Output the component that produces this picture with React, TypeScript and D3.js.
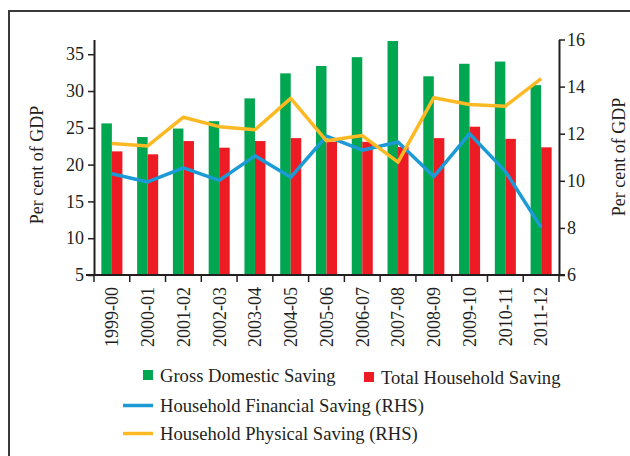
import React, { useEffect, useRef } from 'react';
import * as d3 from 'd3';

const years = ['1999-00', '2000-01', '2001-02', '2002-03', '2003-04', '2004-05', '2005-06', '2006-07', '2007-08', '2008-09', '2009-10', '2010-11', '2011-12'];
const grossDomestic = [25.6, 23.75, 24.9, 25.9, 29.0, 32.4, 33.4, 34.6, 36.8, 32.0, 33.7, 34.0, 30.8];
const totalHousehold = [21.8, 21.4, 23.2, 22.3, 23.2, 23.6, 23.1, 23.1, 22.4, 23.6, 25.15, 23.5, 22.35];
const financialRHS = [10.3, 9.95, 10.55, 10.02, 11.06, 10.15, 11.9, 11.3, 11.65, 10.18, 12.0, 10.4, 8.02];
const physicalRHS = [11.58, 11.48, 12.7, 12.3, 12.17, 13.5, 11.7, 11.92, 10.79, 13.53, 13.24, 13.17, 14.34];
const leftTicks = [5, 10, 15, 20, 25, 30, 35];
const rightTicks = [6, 8, 10, 12, 14, 16];

const GREEN = '#00a650';
const RED = '#ed1c24';
const BLUE = '#1b9ad6';
const ORANGE = '#fdb924';
const INK = '#231f20';
const FONT = '"Liberation Serif", serif';

const App: React.FC = () => {
  const svgRef = useRef<SVGSVGElement>(null);

  useEffect(() => {
    if (!svgRef.current) return;
    const svg = d3.select(svgRef.current);
    svg.selectAll('*').remove();

    const left = 94, right = 559, top = 39.5, bottom = 275;

    const x0 = d3.scaleBand<string>().domain(years).range([left, right]).padding(0);
    const x1 = d3.scaleBand<string>().domain(['gds', 'ths']).range([0, x0.bandwidth()]).paddingInner(0).paddingOuter(0.7);
    const yL = d3.scaleLinear().domain([5, 37]).range([bottom, top]);
    const yR = d3.scaleLinear().domain([6, 16]).range([bottom, top]);

    // frame
    svg.append('path').attr('d', 'M9,456 L9,11 L630,11').attr('fill', 'none').attr('stroke', '#3a3a3a').attr('stroke-width', 2);

    // bars
    const g = svg.append('g');
    years.forEach((yr, i) => {
      g.append('rect')
        .attr('x', x0(yr)! + x1('gds')!)
        .attr('y', yL(grossDomestic[i]))
        .attr('width', x1.bandwidth())
        .attr('height', bottom - yL(grossDomestic[i]))
        .attr('fill', GREEN);
      g.append('rect')
        .attr('x', x0(yr)! + x1('ths')!)
        .attr('y', yL(totalHousehold[i]))
        .attr('width', x1.bandwidth())
        .attr('height', bottom - yL(totalHousehold[i]))
        .attr('fill', RED);
    });

    // lines
    const cx = (i: number) => x0(years[i])! + x0.bandwidth() / 2;
    const line = d3.line<number>().x((_, i) => cx(i)).y(d => yR(d));
    [[financialRHS, BLUE], [physicalRHS, ORANGE]].forEach(([data, color]) => {
      svg.append('path')
        .attr('d', line(data as number[]))
        .attr('fill', 'none')
        .attr('stroke', color as string)
        .attr('stroke-width', 3.5)
        .attr('stroke-linejoin', 'round');
    });

    // axes
    const styleAxis = (sel: d3.Selection<SVGGElement, unknown, null, undefined>) => {
      sel.selectAll('.domain').attr('stroke', INK).attr('stroke-width', 2);
      sel.selectAll('.tick line').attr('stroke', INK).attr('stroke-width', 1.5);
      sel.selectAll('.tick text').attr('fill', INK).style('font-family', FONT).style('font-size', '18px');
    };

    const axL = svg.append('g').attr('transform', `translate(${left},0)`)
      .call(d3.axisLeft(yL).tickValues(leftTicks).tickSize(6).tickSizeOuter(0).tickPadding(4));
    styleAxis(axL);

    const axR = svg.append('g').attr('transform', `translate(${right},0)`)
      .call(d3.axisRight(yR).tickValues(rightTicks).tickSize(6).tickSizeOuter(0).tickPadding(2));
    styleAxis(axR);

    const axB = svg.append('g').attr('transform', `translate(0,${bottom})`)
      .call(d3.axisBottom(x0).tickSize(0).tickSizeOuter(0));
    styleAxis(axB);
    axB.select('.domain').attr('d', `M${left - 8},0H${right + 6}`);
    axB.selectAll('.tick text')
      .attr('transform', 'rotate(-90)')
      .attr('text-anchor', 'end')
      .attr('x', -12)
      .attr('y', 0)
      .attr('dy', '0.35em');
    // tick marks between bands
    axB.selectAll('.sep')
      .data(d3.range(years.length + 1))
      .enter().append('line')
      .attr('class', 'sep')
      .attr('x1', i => left + i * x0.step())
      .attr('x2', i => left + i * x0.step())
      .attr('y1', 0).attr('y2', 7)
      .attr('stroke', INK).attr('stroke-width', 1.5);

    // axis titles
    svg.append('text')
      .attr('transform', `translate(43,165) rotate(-90)`)
      .attr('text-anchor', 'middle')
      .attr('fill', INK)
      .style('font-family', FONT).style('font-size', '18px')
      .text('Per cent of GDP');
    svg.append('text')
      .attr('transform', `translate(625,157) rotate(-90)`)
      .attr('text-anchor', 'middle')
      .attr('fill', INK)
      .style('font-family', FONT).style('font-size', '18px')
      .text('Per cent of GDP');

    // legend
    const lg = svg.append('g').style('font-family', FONT).style('font-size', '18.6px').attr('fill', INK);
    lg.append('rect').attr('x', 143).attr('y', 370).attr('width', 10).attr('height', 10).attr('fill', GREEN);
    lg.append('text').attr('x', 160).attr('y', 382).text('Gross Domestic Saving');
    lg.append('rect').attr('x', 364).attr('y', 372).attr('width', 10).attr('height', 10).attr('fill', RED);
    lg.append('text').attr('x', 381).attr('y', 384).text('Total Household Saving');
    lg.append('line').attr('x1', 123).attr('x2', 153).attr('y1', 405.5).attr('y2', 405.5).attr('stroke', BLUE).attr('stroke-width', 3.5);
    lg.append('text').attr('x', 160).attr('y', 412).text('Household Financial Saving (RHS)');
    lg.append('line').attr('x1', 123).attr('x2', 153).attr('y1', 433.5).attr('y2', 433.5).attr('stroke', ORANGE).attr('stroke-width', 3.5);
    lg.append('text').attr('x', 160).attr('y', 440).text('Household Physical Saving (RHS)');
  }, []);

  return (
    <svg ref={svgRef} width={630} height={456} style={{ position: 'absolute', left: 0, top: 0, background: '#fff' }} />
  );
};

export default App;
